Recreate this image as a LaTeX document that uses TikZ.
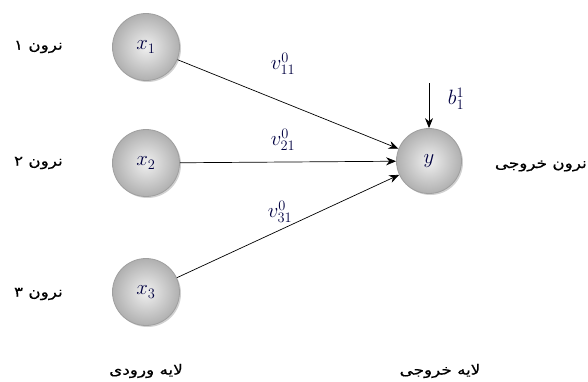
\documentclass[tikz,border=0pt]{standalone}
\usepackage{fontspec}
\setmainfont{Liberation Serif}
\newfontfamily\arabicfont[Script=Arabic,FakeStretch=1.2,FakeBold=0.6]{DejaVu Sans}
\TeXXeTstate=1
\usetikzlibrary{arrows.meta,shadows}
\tikzset{
  neuron/.style={circle, minimum size=67pt, inner sep=0pt, draw=gray!75, line width=0.8pt,
    shading=radial, inner color=gray!12, outer color=gray!62,
    drop shadow={shadow xshift=1.5pt, shadow yshift=-1.5pt, fill=gray!60, opacity=0.6}},
  fa/.style={font=\arabicfont\fontsize{14}{16}\selectfont, inner sep=0pt},
  wlabel/.style={font=\fontsize{20.74}{22}\selectfont, text=blue!25!black, inner sep=0pt},
  conn/.style={-{Stealth[length=10pt,width=8pt]}, line width=0.7pt}
}
\begin{document}
\begin{tikzpicture}[x=1pt,y=-1pt]
\useasboundingbox (0,0) rectangle (588,381);
\node[neuron] (x1) at (146,47) {};
\node[neuron] (x2) at (146,163) {};
\node[neuron] (x3) at (146,292) {};
\node[neuron, minimum size=65pt] (y) at (429,161) {};
\node[wlabel] at (x1) {$x_1$};
\node[wlabel] at (x2) {$x_2$};
\node[wlabel] at (x3) {$x_3$};
\node[wlabel] at (y) {$y$};
\coordinate (bt) at (429,83);
\draw[conn] (x1) -- (y);
\draw[conn] (x2) -- (y);
\draw[conn] (x3) -- (y);
\draw[conn] (bt) -- (y);
\node[wlabel] (w11) at (283,64) {$v^0_{11}$};
\node[wlabel] (w21) at (283,140) {$v^0_{21}$};
\node[wlabel] (w31) at (280,212) {$v^0_{31}$};
\node[wlabel] (b11) at (456,99) {$b^1_1$};
\node[fa, anchor=east] (n1) at (63,47) {\beginR نرون ۱\endR};
\node[fa, anchor=east] (n2) at (63,163) {\beginR نرون ۲\endR};
\node[fa, anchor=east] (n3) at (63,294) {\beginR نرون ۳\endR};
\node[fa, anchor=east] (no) at (587,166) {\beginR نرون خروجی\endR};
\node[fa] (l1) at (146,371) {\beginR لایه ورودی\endR};
\node[fa] (l2) at (440,371) {\beginR لایه خروجی\endR};
\end{tikzpicture}
\end{document}
